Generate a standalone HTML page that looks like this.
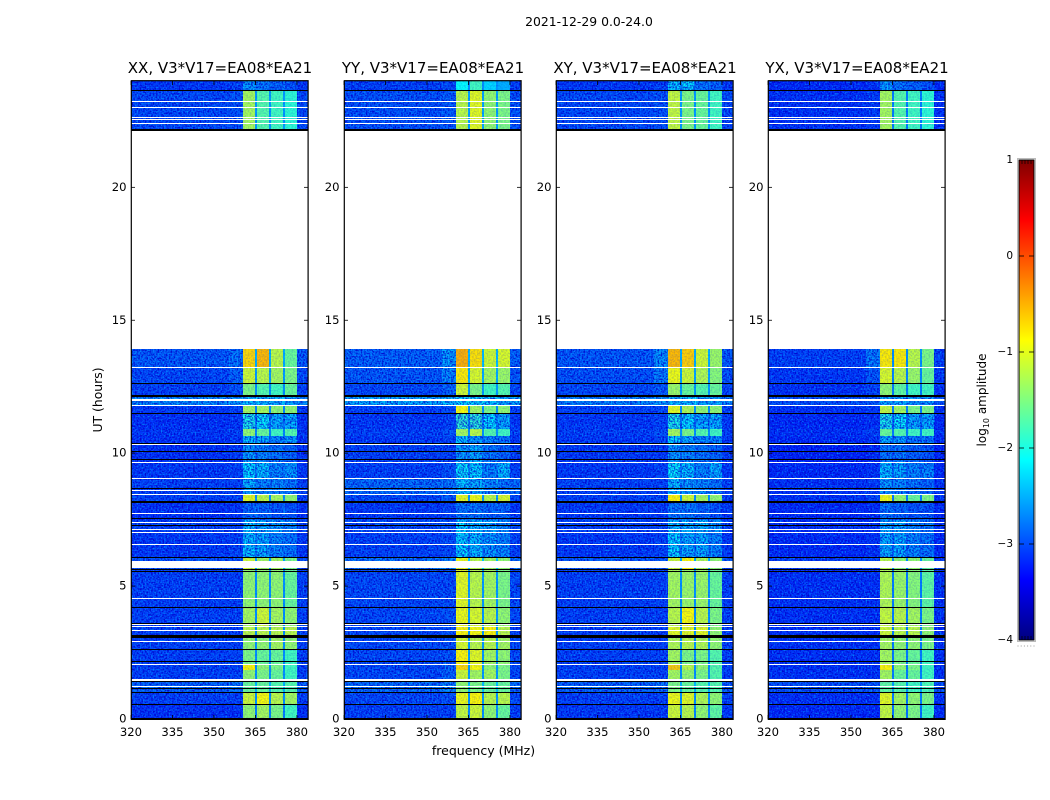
<!DOCTYPE html>
<html>
<head>
<meta charset="utf-8">
<title>2021-12-29 amplitude waterfall</title>
<style>
html,body{margin:0;padding:0;background:#fff;}
#stage{display:block;position:absolute;left:0;top:0;}
text{font-family:"DejaVu Sans","Liberation Sans",sans-serif;fill:#000;}
</style>
</head>
<body>
<svg id="stage" xmlns="http://www.w3.org/2000/svg" width="1050" height="800" viewBox="0 0 1050 800">
  <defs>
    <filter id="speckle-a" x="0" y="0" width="100%" height="100%" color-interpolation-filters="sRGB">
      <feTurbulence type="fractalNoise" baseFrequency="0.62" numOctaves="1" seed="3"/>
      <feColorMatrix type="matrix" values="0 0 0 0 0  0 0 0 0 0  0 0 0 0 0.8  3.4 0 0 0 -1.3"/>
    </filter>
    <filter id="speckle-b" x="0" y="0" width="100%" height="100%" color-interpolation-filters="sRGB">
      <feTurbulence type="fractalNoise" baseFrequency="0.62" numOctaves="1" seed="11"/>
      <feColorMatrix type="matrix" values="0 0 0 0 0  0 0 0 0 0.6  0 0 0 0 1  0 3.4 0 0 -1.75"/>
    </filter>
  </defs>
  <text x="589" y="26" font-size="12.4" text-anchor="middle">2021-12-29 0.0-24.0</text>
  <text x="0" y="0" font-size="12.4" text-anchor="middle" transform="translate(102 400) rotate(-90)">UT (hours)</text>
  <text x="483.5" y="755" font-size="12.5" text-anchor="middle">frequency (MHz)</text>
  <g id="panels"></g>
  <g id="colorbar"></g>
</svg>
<script>
// ---- Chart data (hours, MHz, log10 amplitude) ----
const panelTitles = ["XX, V3*V17=EA08*EA21", "YY, V3*V17=EA08*EA21", "XY, V3*V17=EA08*EA21", "YX, V3*V17=EA08*EA21"];
const freqTicks = [320, 335, 350, 365, 380];
const hourTicks = [0, 5, 10, 15, 20];
const colorTicks = [-4, -3, -2, -1, 0, 1];

// Frequency column edges: background, shoulder, band 1, gap, band 2, gap, band 3, gap, band 4, background
const columnEdges = [320, 355.5, 360.5, 365, 365.7, 370, 370.7, 375, 375.7, 380, 384];

// Observed time segments (hours)
const segStarts = [0, 0.53, 0.98, 1.42, 1.85, 2.05, 2.6, 3.08, 3.5, 4.16, 5.6, 6.06, 6.98, 7.5, 8.16, 8.41, 9.04, 9.64, 10.3, 10.65, 10.9, 11.5, 11.8, 12.15, 12.6, 13.2, 22.15, 23.66];
const segEnds = [0.53, 0.98, 1.42, 1.85, 2.05, 2.6, 3.08, 3.5, 4.16, 5.6, 6.06, 6.98, 7.5, 8.16, 8.41, 9.04, 9.64, 10.3, 10.65, 10.9, 11.5, 11.8, 12.15, 12.6, 13.2, 13.9, 23.66, 24];

// Per-segment levels: [background, shoulder, band1, band2, band3, band4]
const xxLevels = [
[-3.1,-3.1,-1.4,-1.3,-1.5,-1.8],[-3.0,-3.0,-1.1,-0.9,-1.2,-1.3],[-2.8,-2.7,-1.6,-1.6,-1.7,-1.7],[-3.0,-3.0,-1.4,-1.5,-1.6,-1.8],
[-3.0,-3.0,-0.85,-1.4,-1.5,-1.8],[-3.0,-3.0,-1.5,-1.6,-1.6,-1.8],[-3.0,-3.0,-1.4,-1.4,-1.3,-1.4],[-3.0,-3.0,-1.2,-1.2,-1.2,-1.2],
[-3.0,-3.0,-1.3,-1.1,-1.3,-1.4],[-3.0,-3.0,-1.4,-1.4,-1.4,-1.6],[-2.9,-2.9,-1.1,-1.3,-1.3,-1.5],[-3.05,-3.0,-2.3,-2.4,-2.6,-2.7],
[-3.0,-3.0,-2.3,-2.4,-2.5,-2.6],[-3.1,-3.1,-2.8,-2.8,-2.9,-2.9],[-3.0,-3.0,-1.0,-1.2,-1.3,-1.4],[-3.0,-3.0,-2.4,-2.6,-2.6,-2.7],
[-3.05,-3.0,-2.2,-2.3,-2.6,-2.5],[-3.1,-3.05,-2.5,-2.6,-2.7,-2.8],[-3.1,-3.05,-2.3,-2.4,-2.6,-2.5],[-3.05,-3.0,-1.4,-1.6,-1.8,-1.7],
[-3.1,-3.05,-2.0,-2.1,-2.4,-2.4],[-3.05,-3.0,-1.3,-1.3,-1.4,-1.4],[-2.55,-2.5,-2.3,-2.3,-2.4,-2.4],[-3.0,-2.9,-1.5,-1.7,-1.8,-1.6],
[-2.95,-2.8,-1.1,-1.2,-1.3,-1.5],[-2.85,-2.7,-0.7,-0.55,-1.2,-1.6],[-2.95,-2.9,-1.3,-1.7,-1.8,-1.9],[-3.05,-3.0,-2.5,-2.7,-2.8,-2.9]
];
const yyLevels = [
[-3.0,-3.0,-1.15,-1.1,-1.4,-1.6],[-2.95,-2.9,-0.95,-0.85,-1.2,-1.2],[-2.75,-2.6,-1.4,-1.5,-1.6,-1.6],[-2.95,-2.8,-1.1,-1.3,-1.3,-1.5],
[-2.95,-2.8,-0.7,-0.9,-1.4,-1.5],[-2.95,-2.9,-0.85,-1.0,-1.3,-1.4],[-2.95,-2.9,-1.05,-1.2,-1.2,-1.3],[-2.95,-2.9,-0.85,-0.9,-0.85,-1.2],
[-2.95,-2.9,-0.95,-1.05,-1.2,-1.4],[-2.95,-2.95,-1.0,-1.2,-1.3,-1.5],[-2.7,-2.6,-0.95,-1.2,-1.3,-1.4],[-3.0,-2.95,-2.2,-2.3,-2.5,-2.6],
[-2.95,-2.9,-2.2,-2.3,-2.4,-2.6],[-3.05,-3.0,-2.7,-2.7,-2.8,-2.8],[-2.95,-2.85,-1.0,-0.95,-1.2,-1.05],[-2.75,-2.7,-2.3,-2.4,-2.6,-2.7],
[-3.0,-2.9,-2.1,-2.2,-2.6,-2.3],[-3.0,-3.0,-2.5,-2.4,-2.7,-2.8],[-3.05,-3.0,-2.3,-2.5,-2.6,-2.7],[-3.0,-2.9,-1.3,-1.2,-1.7,-1.8],
[-3.05,-3.0,-1.9,-1.9,-2.2,-2.4],[-3.0,-2.95,-0.9,-1.3,-1.5,-1.4],[-2.4,-2.3,-2.2,-2.2,-2.3,-2.4],[-2.95,-2.8,-1.1,-1.5,-1.8,-1.7],
[-2.85,-2.6,-0.8,-1.05,-1.3,-1.35],[-2.8,-2.5,-0.5,-0.75,-1.1,-1.05],[-2.9,-2.85,-1.2,-1.0,-1.4,-1.5],[-3.0,-2.95,-2.1,-1.8,-2.3,-2.5]
];
const xyLevels = [
[-3.05,-3.05,-1.1,-1.2,-1.4,-1.65],[-3.0,-3.0,-0.95,-1.0,-1.25,-1.4],[-2.8,-2.7,-1.5,-1.6,-1.7,-1.7],[-3.0,-3.0,-1.3,-1.4,-1.5,-1.7],
[-3.0,-3.0,-0.65,-1.2,-1.4,-1.7],[-3.0,-3.0,-1.3,-1.5,-1.5,-1.7],[-3.0,-3.0,-1.25,-1.2,-1.25,-1.4],[-3.0,-3.0,-1.0,-1.0,-1.0,-1.4],
[-3.0,-3.0,-1.2,-0.9,-1.2,-1.5],[-3.0,-3.0,-1.3,-1.35,-1.35,-1.6],[-2.85,-2.85,-1.1,-0.85,-1.25,-1.4],[-3.05,-3.0,-2.2,-2.4,-2.4,-2.6],
[-3.0,-3.0,-2.3,-2.4,-2.3,-2.5],[-3.05,-3.05,-2.7,-2.7,-2.8,-2.9],[-3.0,-2.95,-0.85,-1.1,-1.3,-1.4],[-3.0,-3.0,-2.3,-2.5,-2.6,-2.7],
[-3.05,-3.0,-2.1,-2.3,-2.6,-2.4],[-3.05,-3.05,-2.5,-2.6,-2.7,-2.8],[-3.05,-3.0,-2.2,-2.4,-2.6,-2.6],[-3.0,-2.9,-1.3,-1.5,-1.7,-1.8],
[-3.05,-3.0,-2.0,-2.2,-2.4,-2.4],[-3.0,-2.95,-1.0,-1.25,-1.4,-1.4],[-2.6,-2.5,-2.3,-2.3,-2.4,-2.4],[-2.95,-2.85,-1.35,-1.6,-1.7,-1.6],
[-2.9,-2.65,-0.95,-1.1,-1.25,-1.45],[-2.85,-2.55,-0.55,-0.65,-1.1,-1.35],[-2.95,-2.9,-1.15,-1.5,-1.6,-1.8],[-3.05,-3.0,-2.3,-2.2,-2.7,-2.8]
];
const yxLevels = [
[-3.15,-3.15,-1.15,-1.4,-1.5,-1.8],[-3.1,-3.1,-1.0,-1.3,-1.4,-1.5],[-2.9,-2.85,-1.65,-1.7,-1.8,-1.75],[-3.1,-3.1,-1.3,-1.6,-1.6,-1.8],
[-3.1,-3.1,-0.85,-1.4,-1.5,-1.8],[-3.1,-3.1,-1.3,-1.5,-1.6,-1.8],[-3.1,-3.1,-1.3,-1.4,-1.4,-1.5],[-3.1,-3.1,-1.1,-1.2,-1.2,-1.4],
[-3.1,-3.1,-1.15,-1.2,-1.3,-1.5],[-3.1,-3.1,-1.25,-1.35,-1.45,-1.65],[-3.0,-3.0,-1.2,-1.4,-1.4,-1.6],[-3.15,-3.1,-2.4,-2.4,-2.6,-2.7],
[-3.1,-3.1,-2.4,-2.4,-2.6,-2.7],[-3.15,-3.15,-2.7,-2.8,-2.9,-2.9],[-3.1,-3.0,-0.95,-1.4,-1.6,-1.5],[-3.1,-3.05,-2.5,-2.6,-2.7,-2.8],
[-3.15,-3.1,-2.3,-2.4,-2.6,-2.6],[-3.2,-3.15,-2.7,-2.7,-2.8,-2.9],[-3.15,-3.1,-2.4,-2.5,-2.7,-2.7],[-3.1,-3.0,-1.6,-1.7,-1.8,-1.8],
[-3.15,-3.1,-2.0,-2.1,-2.4,-2.4],[-3.1,-3.05,-1.15,-1.3,-1.5,-1.5],[-2.9,-2.85,-2.4,-2.4,-2.5,-2.5],[-3.1,-3.0,-1.4,-1.65,-1.8,-1.8],
[-3.05,-2.85,-1.05,-1.2,-1.35,-1.6],[-3.0,-2.65,-0.8,-0.8,-1.2,-1.5],[-3.1,-3.05,-1.3,-1.7,-1.8,-1.9],[-3.15,-3.1,-2.5,-2.7,-2.8,-2.9]
];
const gapBoost = 0.35;

// Flagged integrations (hours, width in hours)
const whiteHours = [1.19,1.42,2.05,2.88,3.32,3.45,3.52,4.53,5.69,6.56,6.98,7.11,7.36,7.72,8.12,8.41,8.56,9.04,9.64,10.29,11.79,11.96,13.21,22.39,22.53,22.62,22.97,23.21];
const whiteWidths = [0.04,0.08,0.04,0.04,0.04,0.04,0.04,0.04,0.25,0.04,0.04,0.04,0.04,0.04,0.04,0.04,0.04,0.04,0.04,0.04,0.04,0.08,0.04,0.04,0.04,0.04,0.04,0.04];
const blackHours = [0,0.53,0.98,1.13,1.38,2.15,2.60,3.03,3.58,4.16,5.52,5.60,6.06,7.25,7.51,8.14,8.66,9.75,10.04,10.34,11.49,12.12,12.61,22.11,23.64];
const blackWidths = [0.05,0.04,0.04,0.04,0.04,0.04,0.04,0.11,0.04,0.04,0.04,0.04,0.04,0.04,0.04,0.09,0.04,0.04,0.04,0.04,0.04,0.08,0.04,0.07,0.05];

// ---- Layout ----
const panelLefts = [131, 344, 556, 768];
const panelWidth = 177, plotTop = 81, plotBottom = 719;
const allLevels = [xxLevels, yyLevels, xyLevels, yxLevels];
const svgNS = "http://www.w3.org/2000/svg";

function mk(tag, attrs, parent) {
  const e = document.createElementNS(svgNS, tag);
  for (const k in attrs) e.setAttribute(k, attrs[k]);
  parent.appendChild(e);
  return e;
}
function clamp01(v) { return Math.max(0, Math.min(1, v)); }
function jet(level) {
  const t = clamp01((level + 4) / 5);
  const r = clamp01(Math.min(4 * t - 1.5, -4 * t + 4.5));
  const g = clamp01(Math.min(4 * t - 0.5, -4 * t + 3.5));
  const b = clamp01(Math.min(4 * t + 0.5, -4 * t + 2.5));
  return "rgb(" + Math.round(r * 255) + "," + Math.round(g * 255) + "," + Math.round(b * 255) + ")";
}
function xScale(left, mhz) { return left + (mhz - 320) / 64 * panelWidth; }
function yScale(hour) { return plotBottom - hour * (plotBottom - plotTop) / 24; }

const panelsRoot = document.getElementById("panels");

allLevels.forEach(function (levels, p) {
  const left = panelLefts[p];
  const g = mk("g", {}, panelsRoot);
  
  

  const heat = mk("g", { "shape-rendering": "crispEdges" }, g);
  
  

  levels.forEach(function (row, s) {
    const yTop = Math.round(yScale(segEnds[s]));
    const yBot = Math.round(yScale(segStarts[s]));
    const rowColumns = [row[0], row[1], row[2], row[0] + gapBoost, row[3], row[0] + gapBoost, row[4], row[0] + gapBoost, row[5], row[0]];
    rowColumns.forEach(function (level, c) {
      const x0 = Math.round(xScale(left, columnEdges[c]));
      const x1 = Math.round(xScale(left, columnEdges[c + 1]));
      const cell = mk("rect", { x: x0, y: yTop, width: x1 - x0, height: yBot - yTop, fill: jet(level) }, heat);
      
      
    });
  });

  // fine-grain texture: strong over the background and dim rows, faint over bright bands
  const bandStart = Math.round(xScale(left, columnEdges[2]));
  const bandEnd = Math.round(xScale(left, columnEdges[9]));
  levels.forEach(function (row, s) {
    const y0 = Math.round(yScale(segEnds[s]));
    const y1 = Math.round(yScale(segStarts[s]));
    const bandPeak = Math.max(row[2], row[3], row[4], row[5]);
    const zones = [[left, bandStart, 0.85], [bandStart, bandEnd, bandPeak < -1.85 ? 0.8 : 0.16], [bandEnd, left + panelWidth, 0.85]];
    zones.forEach(function (zone) {
      ["speckle-a", "speckle-b"].forEach(function (fid) {
        const t = mk("rect", { x: zone[0], y: y0, width: zone[1] - zone[0], height: y1 - y0, filter: "url(#" + fid + ")", opacity: zone[2] }, g);
        
        
      });
    });
  });

  const flags = mk("g", { "shape-rendering": "crispEdges" }, g);
  
  
  const pxPerHour = (plotBottom - plotTop) / 24;
  whiteHours.forEach(function (h, i) {
    const hPx = Math.max(1, Math.round(whiteWidths[i] * pxPerHour));
    const top = Math.round(yScale(h)) - hPx;
    const r = mk("rect", { x: left, y: top, width: panelWidth, height: hPx, fill: "#fff" }, flags);
    
    
  });
  blackHours.forEach(function (h, i) {
    const hPx = Math.max(1, Math.round(blackWidths[i] * pxPerHour));
    const top = Math.round(yScale(h)) - hPx;
    const r = mk("rect", { x: left, y: top, width: panelWidth, height: hPx, fill: "#000" }, flags);
    
    
  });

  const frame = mk("rect", { x: left + 0.3, y: plotTop - 0.3, width: panelWidth - 0.2, height: plotBottom - plotTop + 0.7, fill: "none", stroke: "#000", "stroke-width": 1.2 }, g);
  
  

  const title = mk("text", { x: left + panelWidth / 2 + 0.5, y: 73, "font-size": 15, "text-anchor": "middle" }, g);
  title.textContent = panelTitles[p];
  
  

  freqTicks.forEach(function (f) {
    const x = xScale(left, f);
    const t1 = mk("line", { x1: x, x2: x, y1: plotBottom, y2: plotBottom - 4, stroke: "#000", "stroke-width": 0.8 }, g);
    
    
    const t2 = mk("line", { x1: x, x2: x, y1: plotTop, y2: plotTop + 4, stroke: "#000", "stroke-width": 0.8 }, g);
    
    
    const label = mk("text", { x: x, y: 736, "font-size": 11.6, "text-anchor": "middle" }, g);
    label.textContent = String(f);
    
    
  });

  hourTicks.forEach(function (h) {
    const y = yScale(h);
    const t1 = mk("line", { x1: left, x2: left + 4, y1: y, y2: y, stroke: "#000", "stroke-width": 0.8 }, g);
    
    
    const t2 = mk("line", { x1: left + panelWidth, x2: left + panelWidth - 4, y1: y, y2: y, stroke: "#000", "stroke-width": 0.8 }, g);
    
    
    const label = mk("text", { x: left - 4.5, y: y + 3.5, "font-size": 11.6, "text-anchor": "end" }, g);
    label.textContent = String(h);
    
    
  });
});

// ---- Colorbar ----
const cbRoot = document.getElementById("colorbar");
const cbLeft = 1019, cbWidth = 15, cbTop = 160, cbBottom = 640;
function cbY(level) { return cbBottom - (level + 4) / 5 * (cbBottom - cbTop); }

const defs = document.querySelector("defs");
const grad = mk("linearGradient", { id: "jet-gradient", x1: 0, y1: 1, x2: 0, y2: 0 }, defs);
for (let i = 0; i <= 40; i++) {
  mk("stop", { offset: i / 40, "stop-color": jet(-4 + 5 * i / 40) }, grad);
}
const cbHalo = mk("rect", { x: cbLeft - 1.5, y: cbTop - 1.5, width: cbWidth + 3, height: cbBottom - cbTop + 3, fill: "none", stroke: "#bbb", "stroke-width": 1 }, cbRoot);


const cbRamp = mk("rect", { x: cbLeft, y: cbTop, width: cbWidth, height: cbBottom - cbTop, fill: "url(#jet-gradient)", stroke: "#000", "stroke-width": 1 }, cbRoot);



colorTicks.forEach(function (v) {
  const y = cbY(v);
  const t1 = mk("line", { x1: cbLeft, x2: cbLeft + 5, y1: y, y2: y, stroke: "#000", "stroke-width": 0.8 }, cbRoot);
  
  
  const t2 = mk("line", { x1: cbLeft + cbWidth, x2: cbLeft + cbWidth - 5, y1: y, y2: y, stroke: "#000", "stroke-width": 0.8 }, cbRoot);
  
  
  const label = mk("text", { x: 1013, y: y + 3, "font-size": 10.5, "text-anchor": "end" }, cbRoot);
  label.textContent = v < 0 ? "\u2212" + Math.abs(v) : String(v);
  
  
});
for (let i = 1; i < 5; i++) {
  const x = cbLeft + i * cbWidth / 5;
  const topTick = mk("line", { x1: x, x2: x, y1: cbTop, y2: cbTop + 4, stroke: "#000", "stroke-width": 0.7 }, cbRoot);
  
  
  const botTick = mk("line", { x1: x, x2: x, y1: cbBottom, y2: cbBottom - 4, stroke: "#000", "stroke-width": 0.7 }, cbRoot);
  
  
}
for (let i = 0; i < 6; i++) {
  const dot = mk("rect", { x: 1017.5 + i * 3.2, y: 645.5, width: 1, height: 1, fill: "#999" }, cbRoot);
  
  
}
const cbTitle = mk("text", { "font-size": 12, "text-anchor": "middle", transform: "translate(986 400) rotate(-90)" }, cbRoot);


const tsA = mk("tspan", {}, cbTitle);
tsA.textContent = "log";
const tsB = mk("tspan", { dy: 3, "font-size": 8 }, cbTitle);
tsB.textContent = "10";
const tsC = mk("tspan", { dy: -3 }, cbTitle);
tsC.textContent = " amplitude";
</script>
</body>
</html>
